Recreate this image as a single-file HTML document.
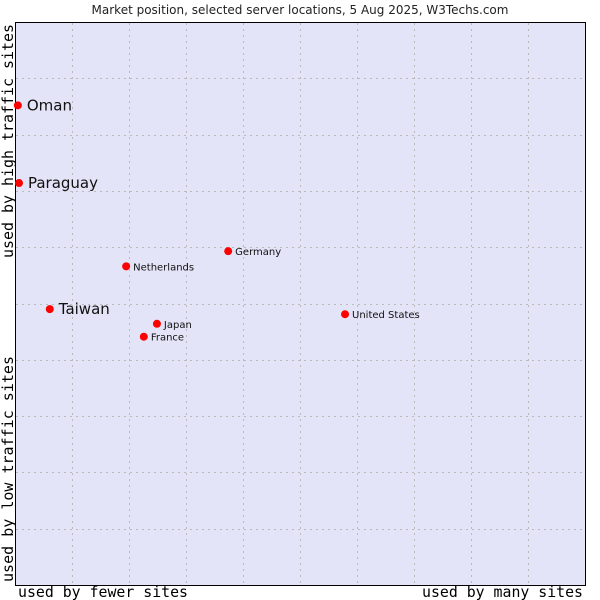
<!DOCTYPE html>
<html><head><meta charset="utf-8"><style>
body{margin:0;background:#fff;width:600px;height:600px;overflow:hidden}
svg{display:block}
</style></head><body>
<svg id="chart" width="600" height="600" xmlns="http://www.w3.org/2000/svg">
<text x="300" y="14" text-anchor="middle" font-family="'DejaVu Sans',sans-serif" font-size="12" fill="#222">Market position, selected server locations, 5 Aug 2025, W3Techs.com</text>
<rect x="15.5" y="22.5" width="570" height="563" fill="#e3e4f7" stroke="#000" stroke-width="1"/>
<g id="grid"></g>
<g id="points"></g>
<text x="18" y="597" textLength="170" lengthAdjust="spacingAndGlyphs" font-family="'DejaVu Sans Mono','Liberation Mono',monospace" font-size="15" fill="#000">used by fewer sites</text>
<text x="422" y="597" textLength="161" lengthAdjust="spacingAndGlyphs" font-family="'DejaVu Sans Mono','Liberation Mono',monospace" font-size="15" fill="#000">used by many sites</text>
<text transform="translate(13,258) rotate(-90)" textLength="234" lengthAdjust="spacingAndGlyphs" font-family="'DejaVu Sans Mono','Liberation Mono',monospace" font-size="15" fill="#000">used by high traffic sites</text>
<text transform="translate(13,582) rotate(-90)" textLength="226" lengthAdjust="spacingAndGlyphs" font-family="'DejaVu Sans Mono','Liberation Mono',monospace" font-size="15" fill="#000">used by low traffic sites</text>
</svg>
<script>
const categories=["Oman","Paraguay","Taiwan","Netherlands","Germany","Japan","France","United States"];
const xValues=[0.5,0.7,6.1,19.5,37.4,24.9,22.6,57.9];
const yValues=[85.2,71.4,49.0,56.6,59.3,46.4,44.1,48.1];
const bigLabel=[true,true,true,false,false,false,false,false];
const X0=15,X1=585,Y0=585,Y1=22;
const sx=v=>X0+v/100*(X1-X0);
const sy=v=>Y0-v/100*(Y0-Y1);
const NS="http://www.w3.org/2000/svg";
const grid=document.getElementById('grid');
for(let i=1;i<10;i++){
  const x=Math.round(sx(i*10))+0.5,y=Math.round(sy(i*10))+0.5;
  const v=document.createElementNS(NS,'line');
  
  
  v.setAttribute('x1',x);v.setAttribute('x2',x);v.setAttribute('y1',23);v.setAttribute('y2',585);
  v.setAttribute('stroke','#bbb');v.setAttribute('stroke-dasharray','2,4');
  grid.appendChild(v);
  const h=document.createElementNS(NS,'line');
  
  
  h.setAttribute('x1',16);h.setAttribute('x2',585);h.setAttribute('y1',y);h.setAttribute('y2',y);
  h.setAttribute('stroke','#bbb');h.setAttribute('stroke-dasharray','2,4');
  grid.appendChild(h);
}
const pts=document.getElementById('points');
categories.forEach((c,i)=>{
  const x=sx(xValues[i]),y=sy(yValues[i]);
  const d=document.createElementNS(NS,'circle');
  
  
  d.setAttribute('cx',x);d.setAttribute('cy',y);d.setAttribute('r',4);d.setAttribute('fill','#f00');
  pts.appendChild(d);
  const t=document.createElementNS(NS,'text');
  
  
  t.setAttribute('x',x+(bigLabel[i]?9:7));t.setAttribute('y',y+(bigLabel[i]?5:4));
  t.setAttribute('font-family',"'DejaVu Sans',sans-serif");
  t.setAttribute('font-size',bigLabel[i]?15:10);
  t.setAttribute('fill','#111');
  t.textContent=c;
  pts.appendChild(t);
});
</script>
</body></html>
